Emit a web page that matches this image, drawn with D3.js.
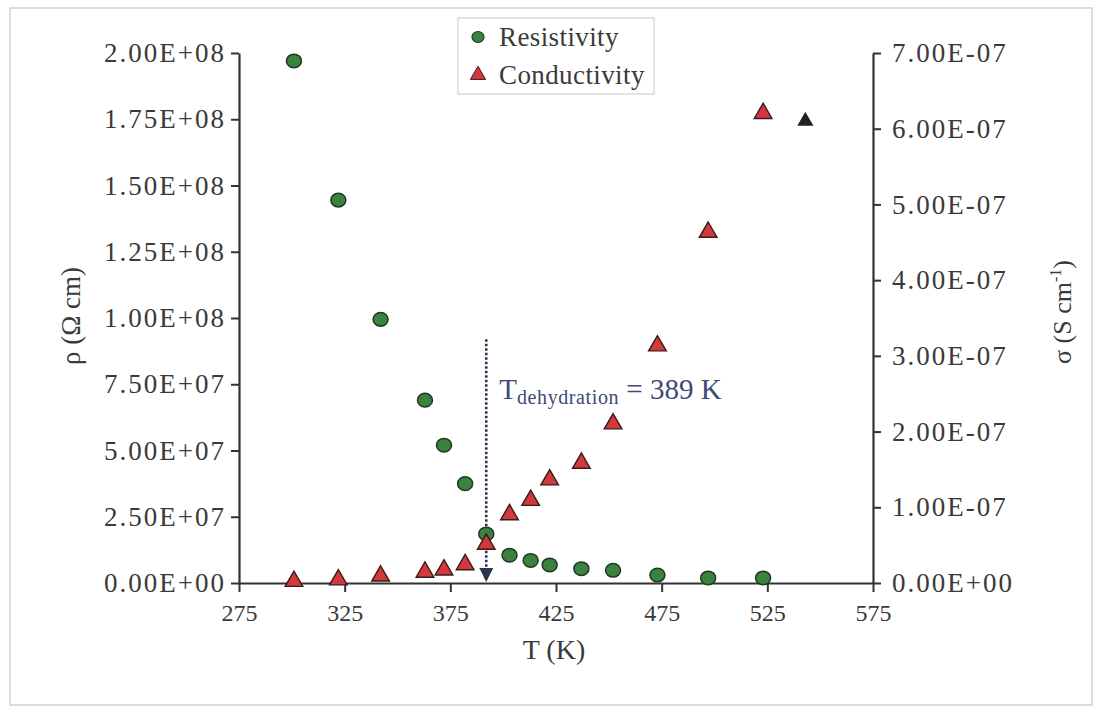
<!DOCTYPE html>
<html>
<head>
<meta charset="utf-8">
<script src="https://cdn.jsdelivr.net/npm/d3@7"></script>
<style>
  body { margin: 0; background: #fff; }
  svg text { font-family: "Liberation Serif", "DejaVu Serif", serif; }
</style>
</head>
<body>
<div id="chart"></div>
<script>
// temperatures (K)
var temps = [301, 322, 342, 363, 372, 382, 392, 403, 413, 422, 437, 452, 473, 497, 523];
// resistivity (ohm cm), left axis
var resistivity = [1.97e8, 1.445e8, 9.95e7, 6.9e7, 5.2e7, 3.75e7, 1.85e7, 1.05e7, 8.5e6, 6.8e6, 5.4e6, 4.8e6, 3.0e6, 1.9e6, 1.9e6];
// conductivity (S/cm), right axis
var conductivity = [1e-9, 3e-9, 8e-9, 1.3e-8, 1.6e-8, 2.3e-8, 5.0e-8, 8.9e-8, 1.08e-7, 1.35e-7, 1.57e-7, 2.09e-7, 3.12e-7, 4.62e-7, 6.19e-7];
// stray dark mark near the last point
var strayT = [543], straySigma = [6.1e-7];

var xTicks = [275, 325, 375, 425, 475, 525, 575];
var leftTicks = [0, 2.5e7, 5e7, 7.5e7, 1e8, 1.25e8, 1.5e8, 1.75e8, 2e8];
var rightTicks = [0, 1e-7, 2e-7, 3e-7, 4e-7, 5e-7, 6e-7, 7e-7];
var tDehyd = 392;

var W = 1101, H = 710;
var margin = {top: 53, right: 228, bottom: 127, left: 239},
    width = W - margin.left - margin.right,
    height = H - margin.top - margin.bottom;

var root = d3.select("#chart").append("svg")
  .attr("width", W).attr("height", H);

// light frame round the picture
root.append("rect")
  .attr("x", 10).attr("y", 8).attr("width", 1082).attr("height", 697)
  .attr("fill", "none").attr("stroke", "#cfcfcf").attr("stroke-width", 1.5);

var svg = root.append("g")
  .attr("transform", "translate(" + margin.left + "," + margin.top + ")");

var x = d3.scaleLinear().domain([275, 575]).range([0, width]);
var yL = d3.scaleLinear().domain([0, 2e8]).range([height, 0]);
var yR = d3.scaleLinear().domain([0, 7e-7]).range([height, 0]);

function sci(v) {
  if (v === 0) return "0.00E+00";
  var e = Math.floor(Math.log10(v) + 1e-9);
  var m = v / Math.pow(10, e);
  return m.toFixed(2) + "E" + (e < 0 ? "-" : "+") + (Math.abs(e) < 10 ? "0" : "") + Math.abs(e);
}

function styleAxis(g) {
  g.selectAll(".domain").attr("stroke", "#333").attr("stroke-width", 2.2);
  g.selectAll(".tick line").attr("stroke", "#333").attr("stroke-width", 2);
  g.selectAll(".tick text").attr("fill", "#3a3a3a")
    .style("font-family", "Liberation Serif, serif");
}

svg.append("g")
  .attr("transform", "translate(0," + height + ")")
  .call(d3.axisBottom(x).tickValues(xTicks).tickSize(9).tickSizeOuter(0).tickPadding(12))
  .call(styleAxis)
  .selectAll(".tick text").style("font-size", "24px");

svg.append("g")
  .call(d3.axisLeft(yL).tickValues(leftTicks).tickFormat(sci).tickSize(8).tickSizeOuter(0).tickPadding(5))
  .call(styleAxis)
  .selectAll(".tick text").style("font-size", "27px").style("letter-spacing", "2px");

svg.append("g")
  .attr("transform", "translate(" + width + ",0)")
  .call(d3.axisRight(yR).tickValues(rightTicks).tickFormat(sci).tickSize(8).tickSizeOuter(0).tickPadding(11))
  .call(styleAxis)
  .selectAll(".tick text").style("font-size", "27px").style("letter-spacing", "2px");

// axis titles
root.append("text")
  .attr("x", margin.left + width / 2 - 2).attr("y", 659)
  .attr("text-anchor", "middle").style("font-size", "28px").attr("fill", "#3a3a3a")
  .text("T (K)");

root.append("text")
  .attr("transform", "translate(80,316) rotate(-90)")
  .attr("text-anchor", "middle").style("font-size", "27px").attr("fill", "#3a3a3a")
  .text("ρ (Ω cm)");

var rl = root.append("text")
  .attr("transform", "translate(1071,312) rotate(-90)")
  .attr("text-anchor", "middle").style("font-size", "26px").attr("fill", "#3a3a3a");
rl.append("tspan").text("σ (S cm");
rl.append("tspan").attr("dy", -10).style("font-size", "16px").text("-1");
rl.append("tspan").attr("dy", 10).text(")");

// dehydration marker
var defs = root.append("defs");
defs.append("marker").attr("id", "arr")
  .attr("viewBox", "0 0 10 10").attr("refX", 8).attr("refY", 5)
  .attr("markerWidth", 5.5).attr("markerHeight", 5.5).attr("orient", "auto")
  .append("path").attr("d", "M0,0 L10,5 L0,10 Z").attr("fill", "#2b3550");

svg.append("line")
  .attr("x1", x(tDehyd)).attr("x2", x(tDehyd))
  .attr("y1", yL(9.2e7)).attr("y2", yL(0.15e7))
  .attr("stroke", "#2b3550").attr("stroke-width", 2.6)
  .attr("stroke-dasharray", "2.5,2")
  .attr("marker-end", "url(#arr)");

var ann = svg.append("text")
  .attr("x", x(tDehyd) + 13).attr("y", yL(6.95e7))
  .attr("fill", "#3d4a78").style("font-size", "29px");
ann.append("tspan").text("T");
ann.append("tspan").attr("dy", 5).style("font-size", "20px").style("letter-spacing", "0.6px").text("dehydration");
ann.append("tspan").attr("dy", -5).text(" = 389 K");

// resistivity circles
svg.selectAll(".res")
  .data(temps.map(function(t, i) { return {t: t, v: resistivity[i]}; }))
  .enter().append("ellipse")
    .attr("cx", function(d) { return x(d.t); })
    .attr("cy", function(d) { return yL(d.v); })
    .attr("rx", 7.5).attr("ry", 6.8)
    .attr("fill", "#3b823f").attr("stroke", "#1e3a22").attr("stroke-width", 1.5);

// conductivity triangles
var tri = d3.symbol().type(d3.symbolTriangle).size(135);
svg.selectAll(".con")
  .data(temps.map(function(t, i) { return {t: t, v: conductivity[i]}; }))
  .enter().append("path")
    .attr("d", tri)
    .attr("transform", function(d) { return "translate(" + x(d.t) + "," + (yR(d.v) - 1) + ")"; })
    .attr("fill", "#d2383c").attr("stroke", "#3a1a1a").attr("stroke-width", 1.4);

svg.selectAll(".stray")
  .data(strayT.map(function(t, i) { return {t: t, v: straySigma[i]}; }))
  .enter().append("path")
    .attr("d", d3.symbol().type(d3.symbolTriangle).size(80))
    .attr("transform", function(d) { return "translate(" + x(d.t) + "," + yR(d.v) + ")"; })
    .attr("fill", "#222").attr("stroke", "#222").attr("stroke-width", 1.5);

// legend
var lg = root.append("g").attr("transform", "translate(458,18)");
lg.append("rect").attr("width", 196).attr("height", 76)
  .attr("fill", "#fff").attr("stroke", "#c8c8c8").attr("stroke-width", 1);
lg.append("ellipse").attr("cx", 20).attr("cy", 19).attr("rx", 6).attr("ry", 5.5)
  .attr("fill", "#3b823f").attr("stroke", "#1e3a22").attr("stroke-width", 1.2);
lg.append("text").attr("x", 41).attr("y", 28).style("font-size", "27px").style("letter-spacing", "0.4px")
  .attr("fill", "#3a3a3a").text("Resistivity");
lg.append("path").attr("d", d3.symbol().type(d3.symbolTriangle).size(100))
  .attr("transform", "translate(20,57)")
  .attr("fill", "#d2383c").attr("stroke", "#3a1a1a").attr("stroke-width", 1);
lg.append("text").attr("x", 41).attr("y", 66).style("font-size", "27px").style("letter-spacing", "0.4px")
  .attr("fill", "#3a3a3a").text("Conductivity");
</script>
</body>
</html>
